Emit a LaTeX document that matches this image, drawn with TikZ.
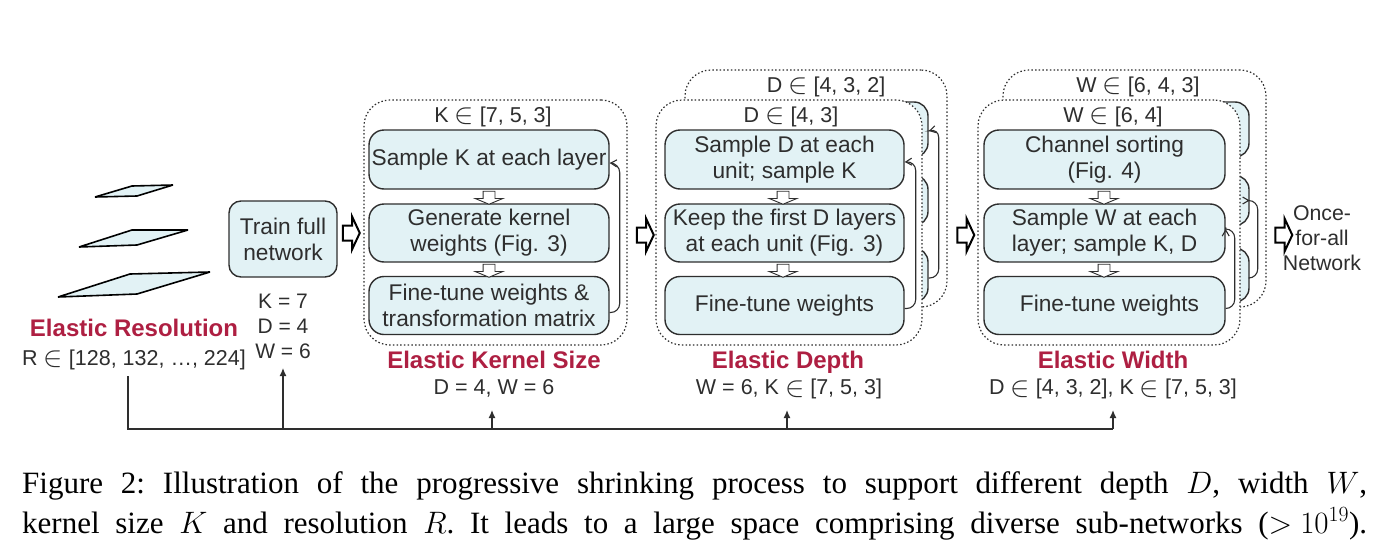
\RequirePackage{fix-cm}
\documentclass[tikz,border=0pt]{standalone}
\usepackage{fontspec}
\setmainfont{Liberation Sans}
\newfontfamily\capfont{Liberation Serif}
\usetikzlibrary{arrows.meta,shapes.arrows,calc}
\definecolor{boxfill}{HTML}{E2F2F5}
\definecolor{inkline}{HTML}{2E2E2E}
\definecolor{elastic}{HTML}{AE1F42}
\newcommand{\bigshaft}{\rule{0pt}{13pt}}
\newcommand{\smallshaft}{\rule{0pt}{11pt}}
\newcommand{\elemof}{\smash{\raisebox{-1.8pt}{\fontsize{29}{29}\selectfont$\in$}}}
\tikzset{
  x=1pt,y=-1pt,
  lbl/.style={inner sep=0pt,align=center,text=inkline,font=\fontsize{21.3}{25}\selectfont},
  baselbl/.style={inner sep=0pt,anchor=base,text=inkline,font=\fontsize{21.5}{24}\selectfont},
  headline/.style={inner sep=0pt,anchor=base,text=elastic,font=\fontsize{24}{28}\selectfont\bfseries},
  stepbox/.style={draw=inkline,fill=boxfill,line width=1.4pt,rounded corners=15pt,inner sep=0pt,
    align=center,text=inkline,font=\fontsize{22.7}{26}\selectfont,minimum width=#1},
  stepbox/.default=240pt,
  groupbox/.style={draw=inkline,fill=white,line width=1.2pt,dash pattern=on 1.5pt off 2.2pt,
    rounded corners=26pt,inner sep=0pt},
  bigarrow/.style={single arrow,draw=black,fill=white,line width=2pt,inner sep=0pt,
    minimum height=17pt,single arrow head extend=9pt,single arrow tip angle=130},
  downarrow/.style={single arrow,draw=inkline,fill=white,line width=0.9pt,inner sep=0pt,rotate=-90,
    minimum height=13pt,single arrow head extend=8pt,single arrow tip angle=135},
  loopback/.style={draw=inkline,line width=1.1pt,rounded corners=9pt,-{Straight Barb[length=6pt,width=7pt]}},
  bus/.style={draw=inkline,line width=1.3pt},
  busup/.style={bus,-{Latex[length=8pt,width=7pt]}},
  plane/.style={draw=black,fill=boxfill,line width=1.6pt,line join=bevel},
}
\begin{document}
\begin{tikzpicture}
\useasboundingbox (0,0) rectangle (1383,554);

% resolution planes
\draw[plane] (95,197) -- (132,186) -- (173,185) -- (137,196) -- cycle;
\draw[plane] (79,247) -- (132,230) -- (188,230) -- (137,245) -- cycle;
\draw[plane] (58,297) -- (130,274) -- (210,272) -- (137,294) -- cycle;
\node[headline] (resT) at (134,336) {Elastic Resolution};
\node[baselbl] (resR) at (134,365) {R \elemof{} [128, 132, …, 224]};

% full network
\node[stepbox=108pt,minimum height=76pt,rounded corners=12pt] (train) at (283,239) {Train full\\network};
\node[baselbl,font=\fontsize{21}{25}\selectfont] (trainK) at (283,308) {K = 7};
\node[baselbl,font=\fontsize{21}{25}\selectfont] (trainD) at (283,333) {D = 4};
\node[baselbl,font=\fontsize{21}{25}\selectfont] (trainW) at (283,358) {W = 6};

% kernel stage
\node[groupbox,minimum width=263pt,minimum height=245pt] (kgroup) at (495.5,222.5) {};
\node[baselbl] (krange) at (493,122) {K \elemof{} [7, 5, 3]};
\node[stepbox,minimum height=59pt] (ka) at (489,159.5) {Sample K at each layer};
\node[stepbox,minimum height=58pt] (kb) at (489,233) {Generate kernel\\weights (Fig. 3)};
\node[stepbox,minimum height=58pt] (kc) at (489,305.5) {Fine-tune weights \&\\transformation matrix};
\node[downarrow] (kab) at (489,196.5) {\smallshaft};
\node[downarrow] (kbc) at (489,269.5) {\smallshaft};
\draw[loopback] ([yshift=-7pt]kc.east) -- ++(10,0) -- ($(ka.east)+(10,4)$) -- ([yshift=-3.5pt]ka.east);
\node[headline] (kT) at (494,368) {Elastic Kernel Size};
\node[baselbl] (kS) at (494,394.5) {D = 4, W = 6};

% depth stage, back layer
\node[groupbox,minimum width=262pt,minimum height=237pt] (dback) at (816,188.5) {};
\node[baselbl] (drange2) at (826,92) {D \elemof{} [4, 3, 2]};
\node[stepbox,minimum height=55pt,rounded corners=14pt] (dba) at (808,129.5) {};
\node[stepbox,minimum height=50pt,rounded corners=14pt] (dbb) at (808,200.5) {};
\node[stepbox,minimum height=54pt,rounded corners=14pt] (dbc) at (808,275) {};
\draw[loopback] ([yshift=-3pt]dbc.east) -- ++(10,0) -- ($(dba.east)+(10,-1)$) -- ([yshift=-1.5pt]dba.east);

% depth stage, front layer
\node[groupbox,minimum width=266pt,minimum height=245pt] (dgroup) at (789,222.5) {};
\node[baselbl] (drange) at (791,122) {D \elemof{} [4, 3]};
\node[stepbox,minimum width=239pt,minimum height=59pt] (da) at (784.5,159.5) {Sample D at each\\unit; sample K};
\node[stepbox,minimum width=239pt,minimum height=58pt] (db) at (784.5,233) {Keep the first D layers\\at each unit (Fig. 3)};
\node[stepbox,minimum width=239pt,minimum height=58pt] (dc) at (784.5,305.5) {Fine-tune weights};
\node[downarrow] (dab) at (783,196.5) {\smallshaft};
\node[downarrow] (dbc) at (783,269.5) {\smallshaft};
\draw[loopback] ([yshift=-3pt]dc.east) -- ++(11,0) -- ($(da.east)+(11,2)$) -- ([yshift=-2.5pt]da.east);
\node[headline] (dT) at (788,368) {Elastic Depth};
\node[baselbl] (dS) at (789,394.5) {W = 6, K \elemof{} [7, 5, 3]};

% width stage, back layer
\node[groupbox,minimum width=263pt,minimum height=237pt] (wback) at (1134.5,188.5) {};
\node[baselbl] (wrange2) at (1138,92) {W \elemof{} [6, 4, 3]};
\node[stepbox,minimum height=55pt,rounded corners=14pt] (wba) at (1129,129.5) {};
\node[stepbox,minimum height=50pt,rounded corners=14pt] (wbb) at (1129,200.5) {};
\node[stepbox,minimum height=54pt,rounded corners=14pt] (wbc) at (1129,275) {};
\draw[loopback] ([yshift=-3pt]wbc.east) -- ++(8,0) -- ($(wbb.east)+(8,0)$) -- (wbb.east);

% width stage, front layer
\node[groupbox,minimum width=262pt,minimum height=245pt] (wgroup) at (1109,222.5) {};
\node[baselbl] (wrange) at (1113,122) {W \elemof{} [6, 4]};
\node[stepbox,minimum width=241pt,minimum height=59pt] (wa) at (1104.5,159.5) {Channel sorting\\(Fig. 4)};
\node[stepbox,minimum width=241pt,minimum height=58pt] (wb) at (1104.5,233) {Sample W at each\\layer; sample K, D};
\node[stepbox,minimum width=241pt,minimum height=58pt] (wc) at (1104.5,305.5) {\hspace*{10pt}Fine-tune weights};
\node[downarrow] (wab) at (1104,196.5) {\smallshaft};
\node[downarrow] (wbc) at (1104,269.5) {\smallshaft};
\draw[loopback] ([yshift=-3pt]wc.east) -- ++(9,0) -- ($(wb.east)+(9,-4)$) -- ([yshift=4pt]wb.east);
\node[headline] (wT) at (1113,368) {Elastic Width};
\node[baselbl] (wS) at (1113,394.5) {D \elemof{} [4, 3, 2], K \elemof{} [7, 5, 3]};

% stage transitions
\node[bigarrow] (g1) at (349.5,233) {\bigshaft};
\node[bigarrow] (g2) at (643.5,235) {\bigshaft};
\node[bigarrow] (g3) at (964,235) {\bigshaft};
\node[bigarrow] (g4) at (1282,235) {\bigshaft};
\node[lbl] (ofa) at (1322,238.5) {Once-\\for-all\\Network};

% shared settings bus
\coordinate (busL) at (128,429);
\coordinate (busR) at (1113,429);
\coordinate (busTop) at (128,376);
\draw[bus] (busTop) -- (busL) -- (busR);
\coordinate (tapA) at (283,429);
\coordinate (tapB) at (492,429);
\coordinate (tapC) at (787,429);
\coordinate (tapD) at (1113,429);
\coordinate (endA) at (283,368);
\coordinate (endB) at (492,410);
\coordinate (endC) at (787,410);
\coordinate (endD) at (1113,410);
\draw[busup] (tapA) -- (endA);
\draw[busup] (tapB) -- (endB);
\draw[busup] (tapC) -- (endC);
\draw[busup] (tapD) -- (endD);

% caption
\node[inner sep=0pt,anchor=north west,align=left,text=black,font=\fontsize{31}{40}\selectfont\capfont\frenchspacing] (caption) at (22,471) {%
\makebox[1345pt][s]{Figure 2: Illustration of the progressive shrinking process to support different depth $D$, width $W$,}\\
\makebox[1345pt][s]{kernel size $K$ and resolution $R$. It leads to a large space comprising diverse sub-networks ($\mathord{>}$\hspace{8pt}$10^{19}$).}};
\end{tikzpicture}
\end{document}
